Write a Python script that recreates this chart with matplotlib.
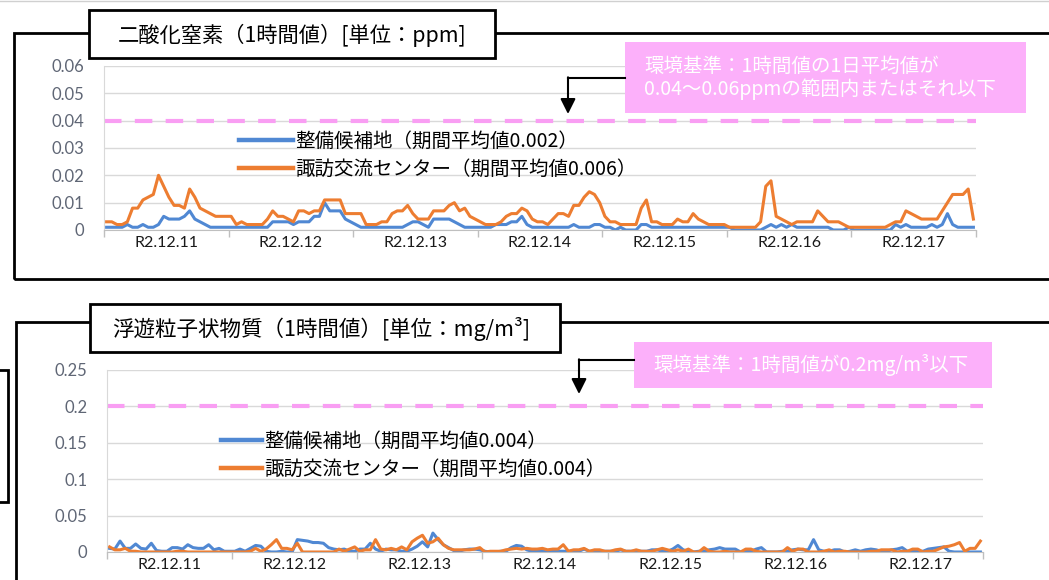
import numpy as np
import matplotlib
matplotlib.use("Agg")
import matplotlib.pyplot as plt
from matplotlib.patches import Rectangle, FancyArrowPatch
from matplotlib.lines import Line2D

plt.rcParams['font.family'] = ['Noto Sans CJK JP', 'DejaVu Sans']

W, H = 1049, 580
DAYS = ['R2.12.11', 'R2.12.12', 'R2.12.13', 'R2.12.14', 'R2.12.15', 'R2.12.16', 'R2.12.17']

# 二酸化窒素 1時間値 [ppm] (7日 x 24時間)
no2_site = [
    0.001,0.001,0.001,0.001,0.002,0.001,0.001,0.002,0.001,0.001,0.002,0.005,0.004,0.004,0.004,0.005,0.007,0.004,0.003,0.002,0.001,0.001,0.001,0.001,
    0.001,0.001,0.001,0.001,0.001,0.001,0.001,0.001,0.003,0.003,0.003,0.003,0.002,0.003,0.003,0.003,0.005,0.005,0.010,0.007,0.007,0.007,0.004,0.003,
    0.002,0.001,0.001,0.001,0.001,0.001,0.001,0.001,0.001,0.001,0.002,0.003,0.003,0.002,0.001,0.004,0.004,0.004,0.004,0.003,0.002,0.001,0.001,0.001,
    0.001,0.001,0.001,0.002,0.002,0.002,0.003,0.003,0.005,0.002,0.001,0.001,0.001,0.001,0.001,0.001,0.001,0.001,0.002,0.001,0.001,0.001,0.002,0.002,
    0.001,0.001,0.000,0.001,0.000,0.000,0.000,0.002,0.002,0.001,0.001,0.001,0.001,0.001,0.001,0.001,0.001,0.001,0.001,0.001,0.001,0.001,0.001,0.001,
    0.001,0.000,0.000,0.000,0.000,0.000,0.000,0.001,0.002,0.001,0.002,0.001,0.002,0.001,0.001,0.001,0.001,0.001,0.001,0.001,0.000,0.000,0.000,0.001,
    0.000,0.000,0.000,0.000,0.000,0.000,0.000,0.000,0.002,0.001,0.002,0.001,0.001,0.001,0.001,0.002,0.001,0.002,0.006,0.002,0.001,0.001,0.001,0.001,
]
no2_center = [
    0.003,0.003,0.002,0.002,0.003,0.008,0.008,0.011,0.012,0.013,0.020,0.016,0.012,0.009,0.009,0.008,0.015,0.012,0.008,0.007,0.006,0.005,0.005,0.005,
    0.005,0.002,0.003,0.002,0.002,0.002,0.002,0.004,0.007,0.005,0.005,0.004,0.003,0.007,0.007,0.006,0.007,0.007,0.011,0.011,0.011,0.011,0.006,0.006,
    0.006,0.006,0.002,0.002,0.002,0.003,0.003,0.006,0.007,0.007,0.009,0.006,0.004,0.004,0.004,0.007,0.007,0.007,0.009,0.010,0.007,0.008,0.005,0.004,
    0.003,0.002,0.002,0.002,0.003,0.005,0.006,0.006,0.008,0.007,0.004,0.003,0.003,0.002,0.004,0.006,0.006,0.005,0.009,0.009,0.012,0.014,0.013,0.010,
    0.005,0.003,0.003,0.002,0.002,0.002,0.002,0.008,0.011,0.003,0.003,0.002,0.002,0.002,0.004,0.003,0.003,0.006,0.004,0.003,0.002,0.002,0.002,0.002,
    0.001,0.001,0.001,0.001,0.001,0.001,0.003,0.016,0.018,0.005,0.004,0.003,0.002,0.003,0.003,0.003,0.003,0.007,0.005,0.003,0.003,0.003,0.002,0.001,
    0.001,0.001,0.001,0.001,0.001,0.001,0.001,0.002,0.003,0.003,0.007,0.006,0.005,0.004,0.004,0.004,0.004,0.007,0.010,0.013,0.013,0.013,0.015,0.004,
]

# 浮遊粒子状物質 1時間値 [mg/m3]
spm_site = [
    0.005,0.004,0.015,0.005,0.005,0.011,0.005,0.004,0.012,0.002,0.001,0.001,0.006,0.006,0.004,0.010,0.006,0.005,0.005,0.010,0.003,0.005,0.001,0.001,
    0.001,0.004,0.001,0.005,0.009,0.008,0.001,0.000,0.000,0.001,0.000,0.000,0.017,0.016,0.015,0.013,0.013,0.012,0.006,0.004,0.003,0.004,0.001,0.001,
    0.004,0.004,0.012,0.004,0.001,0.004,0.003,0.003,0.001,0.001,0.004,0.008,0.014,0.007,0.026,0.017,0.010,0.006,0.002,0.001,0.003,0.004,0.004,0.003,
    0.001,0.000,0.000,0.001,0.001,0.006,0.009,0.008,0.003,0.001,0.001,0.001,0.000,0.001,0.001,0.001,0.001,0.001,0.001,0.004,0.001,0.001,0.001,0.001,
    0.001,0.001,0.003,0.001,0.001,0.001,0.001,0.001,0.003,0.003,0.001,0.001,0.004,0.009,0.003,0.001,0.000,0.001,0.001,0.003,0.004,0.006,0.004,0.004,
    0.004,0.000,0.001,0.001,0.004,0.006,0.000,0.000,0.000,0.001,0.001,0.003,0.004,0.003,0.003,0.017,0.003,0.001,0.001,0.003,0.003,0.000,0.001,0.003,
    0.001,0.003,0.004,0.003,0.001,0.001,0.003,0.004,0.006,0.001,0.001,0.001,0.001,0.004,0.005,0.006,0.007,0.001,0.000,0.000,0.000,0.000,0.000,0.000,
]
spm_center = [
    0.007,0.003,0.003,0.005,0.001,0.001,0.000,0.000,0.000,0.000,0.000,0.000,0.000,0.001,0.001,0.000,0.000,0.000,0.000,0.000,0.000,0.000,0.000,0.000,
    0.000,0.000,0.000,0.001,0.005,0.001,0.004,0.010,0.017,0.005,0.005,0.003,0.012,0.000,0.000,0.000,0.000,0.000,0.000,0.000,0.004,0.001,0.004,0.007,
    0.001,0.003,0.003,0.017,0.004,0.003,0.005,0.003,0.007,0.003,0.014,0.019,0.023,0.012,0.014,0.019,0.010,0.005,0.003,0.003,0.003,0.003,0.004,0.006,
    0.000,0.001,0.001,0.001,0.003,0.004,0.005,0.004,0.005,0.004,0.004,0.005,0.003,0.004,0.004,0.010,0.001,0.003,0.003,0.005,0.001,0.003,0.003,0.001,
    0.001,0.003,0.004,0.001,0.001,0.003,0.001,0.001,0.001,0.003,0.005,0.003,0.001,0.003,0.001,0.004,0.000,0.000,0.006,0.001,0.000,0.000,0.001,0.000,
    0.000,0.000,0.004,0.004,0.001,0.000,0.000,0.000,0.000,0.000,0.006,0.001,0.004,0.004,0.000,0.000,0.000,0.001,0.003,0.000,0.001,0.001,0.000,0.000,
    0.000,0.000,0.001,0.001,0.003,0.003,0.003,0.000,0.001,0.001,0.004,0.004,0.000,0.001,0.001,0.004,0.007,0.008,0.010,0.013,0.001,0.005,0.005,0.015,
]

BLUE, ORANGE, PINK, PINKBOX = '#5088d3', '#ed7d31', '#f99ef3', '#fcb0fa'


def fx(x): return x / W
def fy(y): return 1 - y / H


def rect(fig, x0, y0, x1, y1, **kw):
    r = Rectangle((fx(x0), fy(y1)), fx(x1) - fx(x0), fy(y0) - fy(y1),
                  transform=fig.transFigure, clip_on=False, **kw)
    fig.add_artist(r)


def panel(fig, box, ys, yticks, ylabels, std, labels, leg):
    l, t, r, b = box
    ax = fig.add_axes([fx(l), fy(b), fx(r) - fx(l), fy(t) - fy(b)])
    x = np.arange(len(ys[0]))
    ax.plot(x, ys[0], color=BLUE, lw=2.2, label=labels[0], solid_joinstyle='round')
    ax.plot(x, ys[1], color=ORANGE, lw=2.2, label=labels[1], solid_joinstyle='round')
    ax.axhline(std, color=PINK, lw=3, dashes=(4.2, 3.2), zorder=1)
    ax.set_xlim(-0.5, len(x) - 0.5)
    ax.set_ylim(yticks[0], yticks[-1])
    ax.set_yticks(yticks)
    ax.set_yticklabels(ylabels, fontfamily='Lato', fontsize=12, color='#5f6675')
    ax.tick_params(axis='y', length=0, pad=14)
    ax.set_xticks(np.arange(-0.5, len(x), 24))
    ax.set_xticklabels([])
    ax.tick_params(axis='x', which='major', length=5, color='#bfbfbf', width=1)
    ax.set_xticks(np.arange(11.5, len(x), 24), minor=True)
    ax.set_xticklabels(DAYS, minor=True, fontfamily='Lato', fontsize=11.5, color='#1a1a1a')
    ax.tick_params(axis='x', which='minor', length=0, pad=4)
    ax.grid(axis='y', color='#d9d9d9', lw=1)
    ax.set_axisbelow(True)
    for s in ['top', 'right']:
        ax.spines[s].set_visible(False)
    ax.spines['left'].set_color('#d9d9d9')
    ax.spines['bottom'].set_color('#bfbfbf')
    lg = ax.legend(loc='upper left', bbox_to_anchor=(fx(leg[0]), fy(leg[1])),
                   bbox_transform=fig.transFigure, frameon=False, fontsize=14,
                   borderpad=0, borderaxespad=0, handlelength=leg[2],
                   handletextpad=0.1, labelspacing=0.36)
    for ln in lg.get_lines():
        ln.set_linewidth(3.2)
    return ax


def callout(fig, box, lines, tx, arrow):
    x0, y0, x1, y1 = box
    rect(fig, x0, y0, x1, y1, facecolor=PINKBOX, edgecolor='none', zorder=5)
    fig.text(fx(tx[0]), fy(tx[1]), lines, color='white', fontsize=14,
             ha='left', va='center', linespacing=1.05, zorder=6)
    ax_, ay, tipy = arrow
    fig.add_artist(Line2D([fx(x0), fx(ax_)], [fy(ay), fy(ay)], transform=fig.transFigure,
                          color='black', lw=1.5, zorder=6))
    fig.add_artist(FancyArrowPatch((fx(ax_), fy(ay - 0.7)), (fx(ax_), fy(tipy)),
                                   transform=fig.transFigure, color='black', lw=1.5,
                                   arrowstyle='-|>,head_length=0.7,head_width=0.35',
                                   mutation_scale=13, shrinkA=0, shrinkB=0, zorder=6))


fig = plt.figure(figsize=(W / 100, H / 100), dpi=100)
fig.add_artist(Line2D([0, 1], [fy(0.5), fy(0.5)], transform=fig.transFigure, color='#d0d0d0', lw=1))

# --- 上段: 二酸化窒素 ---
rect(fig, 14, 33, W + 10, 279, facecolor='none', edgecolor='black', lw=2, zorder=2)
panel(fig, (104, 66, 976, 230), (no2_site, no2_center),
      [0, 0.01, 0.02, 0.03, 0.04, 0.05, 0.06], ['0', '0.01', '0.02', '0.03', '0.04', '0.05', '0.06'],
      0.04, ['整備候補地（期間平均値0.002）', '諏訪交流センター（期間平均値0.006）'], (239, 131, 2.8))
rect(fig, 89, 10, 495, 58, facecolor='white', edgecolor='black', lw=2, zorder=4)
fig.text(fx(118), fy(35), '二酸化窒素（1時間値）[単位：ppm]', fontsize=15.3, ha='left', va='center', zorder=5)
callout(fig, (625, 42, 1026, 113), '環境基準：1時間値の1日平均値が\n0.04～0.06ppmの範囲内またはそれ以下',
        (644, 78), (568, 78, 114))

# --- 下段: 浮遊粒子状物質 ---
rect(fig, 16, 322, W + 10, H + 10, facecolor='none', edgecolor='black', lw=2, zorder=2)
rect(fig, -10, 370, 8, 502, facecolor='none', edgecolor='black', lw=2, zorder=2)
panel(fig, (107, 370, 983, 552), (spm_site, spm_center),
      [0, 0.05, 0.1, 0.15, 0.2, 0.25], ['0', '0.05', '0.1', '0.15', '0.2', '0.25'],
      0.2, ['整備候補地（期間平均値0.004）', '諏訪交流センター（期間平均値0.004）'], (221, 431, 2.1))
rect(fig, 90, 304, 560, 352, facecolor='white', edgecolor='black', lw=2, zorder=4)
fig.text(fx(112), fy(329), '浮遊粒子状物質（1時間値）[単位：mg/m³]', fontsize=15.5, ha='left', va='center', zorder=5)
callout(fig, (634, 342, 992, 388), '環境基準：1時間値が0.2mg/m³以下', (653, 365), (579, 360, 394))

fig.savefig('out.png', dpi=100)
